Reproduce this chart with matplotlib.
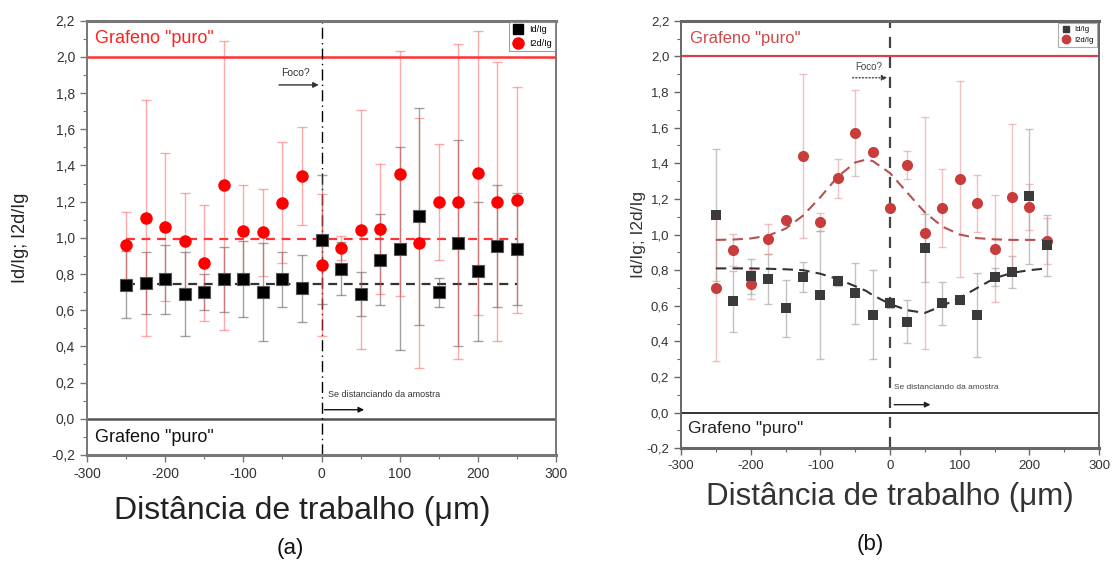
import matplotlib
matplotlib.use("Agg")
import matplotlib.pyplot as plt
from matplotlib.ticker import MultipleLocator, FuncFormatter
from matplotlib.lines import Line2D

plt.rcParams['font.family'] = ['Liberation Sans', 'DejaVu Sans']

# ---------------- Data: panel (a) ----------------
x_a = [-250, -225, -200, -175, -150, -125, -100, -75, -50, -25, 0,
       25, 50, 75, 100, 125, 150, 175, 200, 225, 250]
id_a = [0.74, 0.75, 0.77, 0.69, 0.70, 0.77, 0.77, 0.70, 0.77, 0.72, 0.99,
        0.83, 0.69, 0.88, 0.94, 1.12, 0.70, 0.97, 0.815, 0.955, 0.94]
id_a_err = [0.185, 0.17, 0.19, 0.23, 0.10, 0.18, 0.21, 0.27, 0.15, 0.185, 0.355,
            0.145, 0.12, 0.25, 0.56, 0.60, 0.08, 0.57, 0.385, 0.335, 0.31]
i2d_a = [0.96, 1.11, 1.06, 0.985, 0.86, 1.29, 1.04, 1.03, 1.195, 1.34, 0.85,
         0.945, 1.045, 1.05, 1.355, 0.97, 1.20, 1.20, 1.36, 1.20, 1.21]
i2d_a_err = [0.185, 0.65, 0.41, 0.26, 0.32, 0.80, 0.25, 0.24, 0.335, 0.27, 0.39,
             0.065, 0.66, 0.36, 0.675, 0.69, 0.32, 0.87, 0.785, 0.77, 0.625]
mean_id_a = 0.745
mean_i2d_a = 0.995

# ---------------- Data: panel (b) ----------------
x_b = [-250, -225, -200, -175, -150, -125, -100, -75, -50, -25, 0,
       25, 50, 75, 100, 125, 150, 175, 200, 225]
id_b = [1.11, 0.625, 0.765, 0.75, 0.585, 0.76, 0.66, 0.74, 0.67, 0.55, 0.615,
        0.51, 0.925, 0.615, 0.63, 0.55, 0.76, 0.79, 1.215, 0.94]
id_b_err = [0.37, 0.17, 0.10, 0.14, 0.16, 0.085, 0.36, 0.03, 0.17, 0.25, 0.03,
            0.12, 0.19, 0.12, 0.02, 0.235, 0.05, 0.09, 0.38, 0.17]
i2d_b = [0.70, 0.915, 0.72, 0.975, 1.08, 1.44, 1.07, 1.315, 1.57, 1.465, 1.15,
         1.39, 1.01, 1.15, 1.31, 1.175, 0.92, 1.21, 1.155, 0.965]
i2d_b_err = [0.41, 0.09, 0.08, 0.085, 0.0, 0.46, 0.05, 0.11, 0.24, 0.0, 0.0,
             0.08, 0.65, 0.22, 0.55, 0.16, 0.30, 0.41, 0.13, 0.13]
# fitted curves
fit_x_b = [-250, -225, -200, -175, -150, -125, -100, -75, -50, -35, -25, 0,
           25, 50, 75, 100, 125, 150, 175, 200, 225]
fit_i2d_b = [0.97, 0.972, 0.978, 0.994, 1.033, 1.106, 1.21, 1.325, 1.405, 1.42, 1.413, 1.345,
             1.234, 1.124, 1.045, 1.0, 0.98, 0.973, 0.97, 0.97, 0.97]
fit_id_b = [0.81, 0.81, 0.81, 0.808, 0.805, 0.80, 0.78, 0.75, 0.71, 0.685, 0.66, 0.61,
            0.575, 0.56, 0.60, 0.645, 0.70, 0.755, 0.785, 0.80, 0.81]

xticks = [-300, -200, -100, 0, 100, 200, 300]
yticks = [-0.2, 0.0, 0.2, 0.4, 0.6, 0.8, 1.0, 1.2, 1.4, 1.6, 1.8, 2.0, 2.2]

fig = plt.figure(figsize=(11.13, 5.70), dpi=100)
axA = fig.add_axes([0.0782, 0.2018, 0.4214, 0.7619])
axB = fig.add_axes([0.6119, 0.2135, 0.3756, 0.7500])

comma = FuncFormatter(lambda v, p: ("%.1f" % v).replace('.', ','))
intfmt = FuncFormatter(lambda v, p: "%d" % v)


def style_axes(ax, spine_col, tick_fs):
    ax.set_xlim(-300, 300)
    ax.set_ylim(-0.2, 2.2)
    ax.set_xticks(xticks)
    ax.set_yticks(yticks)
    ax.xaxis.set_minor_locator(MultipleLocator(50))
    ax.yaxis.set_minor_locator(MultipleLocator(0.1))
    ax.yaxis.set_major_formatter(comma)
    ax.xaxis.set_major_formatter(intfmt)
    ax.tick_params(which='both', direction='out', colors=spine_col,
                   labelcolor='#333333', labelsize=tick_fs)
    ax.tick_params(which='major', length=5, width=1.0)
    ax.tick_params(which='minor', length=3, width=0.8)
    ax.tick_params(top=False, right=False)
    for s in ax.spines.values():
        s.set_color(spine_col)
        s.set_linewidth(1.4)
    for s in ('top', 'bottom'):
        ax.spines[s].set_linewidth(2.2)


# ---------------- Panel (a) ----------------
style_axes(axA, '#777777', 10)
axA.axhline(2.0, color='#ff3333', lw=1.8, zorder=2)
axA.axhline(0.0, color='#555555', lw=1.8, zorder=2)
axA.axvline(0.0, color='black', lw=1.0, ls=(0, (8, 3, 1, 3)), zorder=2)
axA.plot([x_a[0], x_a[-1]], [mean_i2d_a, mean_i2d_a], color='#ff3333', lw=1.6,
         ls=(0, (4, 3)), zorder=3)
axA.plot([x_a[0], x_a[-1]], [mean_id_a, mean_id_a], color='#333333', lw=1.6,
         ls=(0, (4, 3)), zorder=3)
axA.errorbar(x_a, id_a, yerr=id_a_err, fmt='none', ecolor='#555555', alpha=0.55,
             elinewidth=1.0, capsize=3.5, capthick=1.0, zorder=4)
axA.errorbar(x_a, i2d_a, yerr=i2d_a_err, fmt='none', ecolor='#ff4444', alpha=0.45,
             elinewidth=1.0, capsize=3.5, capthick=1.0, zorder=4)
axA.plot(x_a, id_a, 's', color='black', ms=8, mec='#555555', mew=0.8, zorder=6)
axA.plot(x_a, i2d_a, 'o', color='red', ms=9, mew=0, zorder=5)
axA.text(-290, 2.1, 'Grafeno "puro"', color='#ff2020', fontsize=13,
         va='center', ha='left')
axA.text(-290, -0.102, 'Grafeno "puro"', color='#111111', fontsize=13,
         va='center', ha='left')
axA.text(-52, 1.91, 'Foco?', fontsize=7.5, color='#333333', va='center', ha='left')
axA.annotate('', xy=(0, 1.845), xytext=(-58, 1.845),
             arrowprops=dict(arrowstyle='-|>', color='#333333', lw=1.0,
                             mutation_scale=8))
axA.text(8, 0.134, 'Se distanciando da amostra', fontsize=6.5, color='#333333',
         va='center', ha='left')
axA.annotate('', xy=(58, 0.05), xytext=(0, 0.05),
             arrowprops=dict(arrowstyle='-|>', color='#111111', lw=1.0,
                             mutation_scale=8))
axA.set_ylabel('Id/Ig; I2d/Ig', fontsize=13, color='#222222', labelpad=16)
axA.set_xlabel('Distância de trabalho (μm)', fontsize=23, color='#222222')
axA.xaxis.set_label_coords(0.458, -0.095)
handlesA = [Line2D([], [], marker='s', ls='none', color='black', ms=7),
            Line2D([], [], marker='o', ls='none', color='red', ms=8)]
legA = axA.legend(handlesA, ['Id/Ig', 'I2d/Ig'], loc='upper right', fontsize=6.5,
                  frameon=True, fancybox=False, edgecolor='#888888',
                  borderpad=0.4, handletextpad=0.6, labelspacing=0.5,
                  borderaxespad=0.1, handlelength=1.2)
legA.get_frame().set_linewidth(0.8)
fig.text(0.2605, 0.038, '(a)', fontsize=16, ha='center', va='center', color='#111111')

# ---------------- Panel (b) ----------------
style_axes(axB, '#666666', 9.5)
axB.axhline(2.0, color='#d84050', lw=1.6, zorder=2)
axB.axhline(0.0, color='#333333', lw=1.4, zorder=2)
axB.axvline(0.0, color='#444444', lw=1.6, ls=(0, (5, 4)), zorder=2)
axB.errorbar(x_b, id_b, yerr=id_b_err, fmt='none', ecolor='#aaaaaa', alpha=0.7,
             elinewidth=1.0, capsize=3, capthick=1.0, zorder=3)
axB.errorbar(x_b, i2d_b, yerr=i2d_b_err, fmt='none', ecolor='#e09090', alpha=0.55,
             elinewidth=1.0, capsize=3, capthick=1.0, zorder=3)
axB.plot(fit_x_b, fit_i2d_b, color='#b85050', lw=1.5, ls=(0, (5, 3)), zorder=4)
axB.plot(fit_x_b, fit_id_b, color='#333333', lw=1.5, ls=(0, (5, 3)), zorder=4)
axB.plot(x_b, id_b, 's', color='#3a3a3a', ms=7, mew=0, zorder=6)
axB.plot(x_b, i2d_b, 'o', color='#c83c3c', ms=8, mew=0, zorder=5)
axB.text(-287, 2.1, 'Grafeno "puro"', color='#d04848', fontsize=12,
         va='center', ha='left')
axB.text(-290, -0.09, 'Grafeno "puro"', color='#222222', fontsize=12.5,
         va='center', ha='left')
axB.text(-50, 1.94, 'Foco?', fontsize=7, color='#444444', va='center', ha='left')
axB.annotate('', xy=(0, 1.88), xytext=(-58, 1.88),
             arrowprops=dict(arrowstyle='-|>', color='#333333', lw=0.9,
                             ls=':', mutation_scale=8))
axB.text(6, 0.14, 'Se distanciando da amostra', fontsize=6, color='#444444',
         va='center', ha='left')
axB.annotate('', xy=(62, 0.045), xytext=(2, 0.045),
             arrowprops=dict(arrowstyle='-|>', color='#222222', lw=1.0,
                             mutation_scale=8))
axB.set_ylabel('Id/Ig; I2d/Ig', fontsize=12.5, color='#333333', labelpad=0)
axB.set_xlabel('Distância de trabalho (μm)', fontsize=22.5, color='#333333',
               labelpad=7)
handlesB = [Line2D([], [], marker='s', ls='none', color='#3a3a3a', ms=5),
            Line2D([], [], marker='o', ls='none', color='#c83c3c', ms=6)]
legB = axB.legend(handlesB, ['Id/Ig', 'I2d/Ig'], loc='upper right', fontsize=5.5,
                  frameon=True, fancybox=False, edgecolor='#999999',
                  borderpad=0.4, handletextpad=0.5, labelspacing=0.4,
                  borderaxespad=0.3, handlelength=1.2)
legB.get_frame().set_linewidth(0.8)
fig.text(0.782, 0.045, '(b)', fontsize=16, ha='center', va='center', color='#111111')

fig.savefig('out.png', dpi=100, facecolor='white')
